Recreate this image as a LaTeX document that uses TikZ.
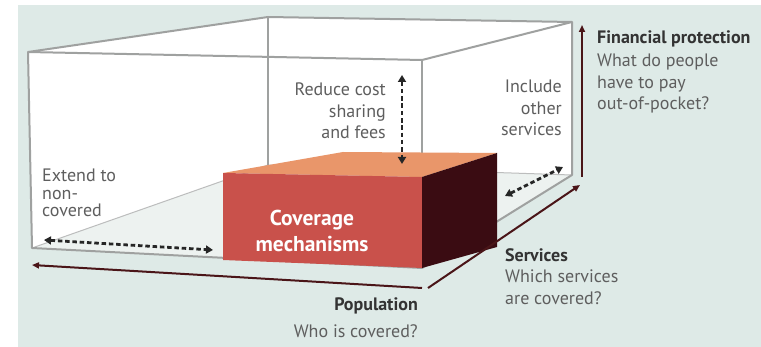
\documentclass[tikz,border=0pt]{standalone}
\usepackage{fontspec}
\setmainfont{PT Sans}
\usetikzlibrary{arrows.meta}
\definecolor{bgteal}{HTML}{DEEAE7}
\definecolor{floorgrey}{HTML}{EDF2F0}
\definecolor{edgegrey}{HTML}{9FA1A0}
\definecolor{axisred}{HTML}{4A1518}
\definecolor{boxfront}{HTML}{C9514B}
\definecolor{boxtop}{HTML}{E9966A}
\definecolor{boxside}{HTML}{3A0C12}
\definecolor{titlegrey}{HTML}{333333}
\definecolor{textgrey}{HTML}{5E5E5E}
\tikzset{
  edge/.style={draw=edgegrey,line width=2pt,line join=round},
  backedge/.style={draw=edgegrey!70,line width=1pt},
  axis/.style={draw=axisred,line width=2pt,-{Triangle[length=7pt,width=6pt]}},
  dotarrow/.style={draw=black!85,line width=2.8pt,dash pattern=on 4.5pt off 2.8pt,{Triangle[length=7pt,width=8pt]}-{Triangle[length=7pt,width=8pt]}},
  lbl/.style={inner sep=0pt,text=textgrey,font=\fontsize{18}{21.5}\selectfont},
  ttl/.style={inner sep=0pt,text=titlegrey,font=\bfseries\fontsize{18}{21.5}\selectfont}
}
\begin{document}
\begin{tikzpicture}[x=1pt,y=-1pt]
\useasboundingbox (0,0) rectangle (761,347);
\fill[bgteal] (18,5) rectangle (761,347);
\coordinate (ftl) at (28,52);
\coordinate (ftr) at (422,60);
\coordinate (fbl) at (32,248);
\coordinate (fbr) at (422,268);
\coordinate (btl) at (268,17);
\coordinate (btr) at (572,22);
\coordinate (bbl) at (268,165);
\coordinate (bbr) at (572,175);
\fill[white] (ftl) -- (btl) -- (btr) -- (bbr) -- (fbr) -- (fbl) -- cycle;
\fill[floorgrey] (fbl) -- (bbl) -- (bbr) -- (fbr) -- cycle;
\draw[backedge] (fbl) -- (bbl) -- (bbr);
\draw[edge] (btl) -- (bbl);
\draw[edge] (ftl) -- (btl) -- (btr) -- (bbr) -- (fbr) -- (fbl) -- cycle;
\draw[edge] (ftl) -- (ftr) -- (btr);
\draw[edge] (ftr) -- (fbr);
\coordinate (cfl) at (223,173);
\coordinate (cfr) at (422,177);
\coordinate (cbl) at (343,152);
\coordinate (cbr) at (497,153);
\coordinate (cdl) at (223,260);
\coordinate (cdr) at (422,268);
\coordinate (cdb) at (497,247);
\fill[boxtop] (cfl) -- (cbl) -- (cbr) -- (cfr) -- cycle;
\fill[boxfront] (cfl) -- (cfr) -- (cdr) -- (cdl) -- cycle;
\fill[boxside] (cfr) -- (cbr) -- (cdb) -- (cdr) -- cycle;
\node[white,font=\bfseries\fontsize{21.5}{26}\selectfont,align=center] (cov) at (312,231) {Coverage\\mechanisms};
\coordinate (popr) at (422,288);
\coordinate (popl) at (32,265);
\coordinate (servl) at (428,288);
\coordinate (servr) at (580,185);
\coordinate (finb) at (582,177);
\coordinate (fint) at (582,25);
\draw[axis] (popr) -- (popl);
\draw[axis] (servl) -- (servr);
\draw[axis] (finb) -- (fint);
\coordinate (rcu) at (402,75);
\coordinate (rcd) at (402,164);
\coordinate (exl) at (44,240);
\coordinate (exr) at (213,250);
\coordinate (inl) at (505,196);
\coordinate (inr) at (563,167);
\draw[dotarrow] (rcu) -- (rcd);
\draw[dotarrow] (exl) -- (exr);
\draw[dotarrow] (inl) -- (inr);
\node[lbl,align=right,anchor=north east] (reduce) at (386,83) {Reduce cost\\sharing\\and fees};
\node[lbl,align=right,anchor=north east] (include) at (562,80) {Include\\other\\services};
\node[lbl,align=left,anchor=north west,font=\fontsize{18}{17.5}\selectfont] (extend) at (42,169) {Extend to\\non-\\covered};
\node[ttl,anchor=north west] (fin) at (597,31) {Financial protection};
\node[lbl,align=left,anchor=north west] (finq) at (597,54) {What do people\\have to pay\\out-of-pocket?};
\node[ttl,anchor=north west] (serv) at (505,248) {Services};
\node[lbl,align=left,anchor=north west] (servq) at (505,270) {Which services\\are covered?};
\node[ttl,anchor=north east] (pop) at (418,298) {Population};
\node[lbl,anchor=north east] (popq) at (418,324) {Who is covered?};
\end{tikzpicture}
\end{document}
